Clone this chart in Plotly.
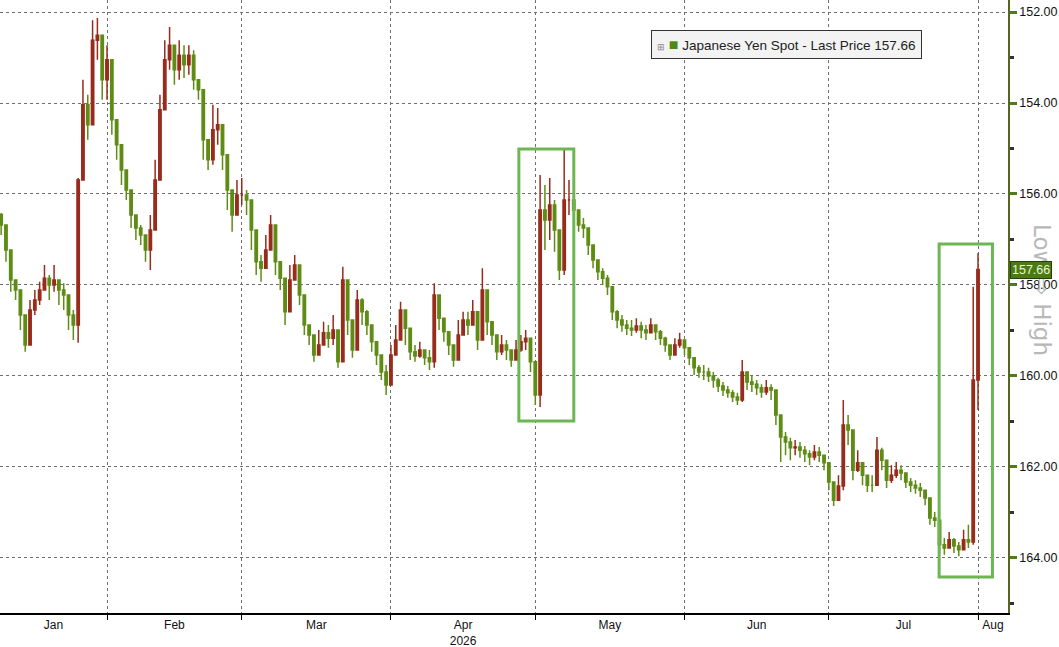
import plotly.graph_objects as go
import pandas as pd

# ---------------- data ----------------
start_date = "2026-01-10"
first_open = 156.45

closes = [
    156.68, 157.23, 157.89, 158.11, 158.66, 159.32, 158.55, 158.33, 158.11, 157.85,
    158.00, 157.89, 158.11, 158.22, 158.66, 158.88, 155.69, 154.04, 154.48, 152.62,
    152.51, 153.49, 153.05, 154.37, 154.92, 155.47, 155.91, 156.46, 156.75, 156.90,
    157.23, 156.79, 155.69, 154.15, 153.05, 152.73, 153.27, 152.95, 153.16, 152.95,
    153.49, 153.71, 154.81, 155.25, 154.59, 154.48, 155.14, 155.91, 156.46, 156.02,
    156.02, 156.13, 156.79, 157.49, 157.63, 157.23, 156.68, 157.49, 157.85, 158.59,
    157.89, 157.56, 158.22, 158.88, 159.10, 159.54, 159.32, 159.05, 159.17, 158.99,
    159.69, 157.89, 158.77, 159.43, 158.33, 158.59, 158.88, 159.25, 159.54, 159.91,
    160.20, 159.54, 159.21, 158.55, 158.95, 159.47, 159.56, 159.43, 159.60, 159.69,
    158.22, 158.73, 159.03, 159.32, 159.65, 159.10, 158.77, 158.88, 158.59, 159.21,
    158.11, 158.81, 159.10, 159.47, 159.32, 159.43, 159.65, 159.43, 159.25, 159.17,
    159.69, 160.42, 156.35, 156.57, 156.24, 156.79, 157.67, 156.13, 156.13, 156.35,
    156.68, 156.75, 157.12, 157.45, 157.71, 157.85, 158.04, 158.59, 158.77, 158.88,
    158.95, 158.99, 158.90, 158.99, 159.05, 158.88, 159.03, 159.17, 159.32, 159.54,
    159.32, 159.21, 159.38, 159.60, 159.82, 159.91, 159.91, 160.00, 160.09, 160.22,
    160.31, 160.37, 160.46, 160.53, 159.91, 160.13, 160.18, 160.26, 160.35, 160.26,
    160.31, 160.86, 161.34, 161.45, 161.58, 161.56, 161.63, 161.71, 161.78, 161.67,
    161.74, 161.91, 162.33, 162.73, 162.42, 161.08, 161.19, 162.07, 161.91, 162.18,
    162.40, 162.40, 161.63, 161.85, 162.29, 162.18, 162.07, 162.13, 162.33, 162.40,
    162.46, 162.51, 162.68, 163.12, 163.17, 163.71, 163.78, 163.60, 163.74, 163.82,
    163.60, 163.65, 160.09, 157.66,
]

lows = [
    156.42, 157.01, 157.67, 157.89, 158.33, 158.99, 158.33, 158.11, 157.93, 157.56,
    157.78, 157.56, 157.89, 157.96, 158.33, 158.55, 155.65, 153.49, 153.82, 152.18,
    152.13, 152.73, 152.73, 153.93, 154.59, 155.14, 155.58, 156.13, 156.46, 156.68,
    156.90, 156.46, 155.25, 153.82, 152.62, 152.33, 152.73, 152.62, 152.73, 152.73,
    152.84, 153.49, 154.26, 154.92, 154.04, 154.11, 154.81, 155.58, 156.02, 155.69,
    155.65, 155.91, 156.35, 157.12, 157.34, 156.90, 156.46, 157.23, 157.56, 158.22,
    157.56, 157.34, 157.89, 158.55, 158.88, 159.21, 158.99, 158.81, 158.88, 158.66,
    159.32, 157.60, 158.33, 158.99, 158.11, 158.29, 158.55, 158.99, 159.32, 159.65,
    159.76, 159.32, 158.88, 158.37, 158.73, 159.21, 159.32, 159.25, 159.43, 159.43,
    157.96, 158.33, 158.77, 159.10, 159.38, 158.77, 158.59, 158.59, 158.33, 158.88,
    157.63, 158.55, 158.88, 159.21, 159.10, 159.21, 159.43, 159.21, 159.10, 158.99,
    159.43, 160.09, 155.58, 155.80, 155.65, 156.13, 157.12, 155.03, 155.69, 156.13,
    156.46, 156.53, 156.86, 157.12, 157.49, 157.63, 157.78, 158.33, 158.55, 158.66,
    158.77, 158.77, 158.73, 158.81, 158.88, 158.73, 158.88, 158.99, 159.14, 159.32,
    159.17, 159.05, 159.21, 159.43, 159.65, 159.76, 159.76, 159.82, 159.91, 160.04,
    160.13, 160.22, 160.31, 160.37, 159.65, 159.91, 159.98, 160.09, 160.18, 160.09,
    160.18, 160.53, 161.08, 161.23, 161.36, 161.41, 161.45, 161.54, 161.63, 161.52,
    161.56, 161.74, 162.07, 162.46, 162.18, 160.53, 160.86, 161.74, 161.63, 161.89,
    162.18, 162.18, 161.34, 161.58, 162.07, 161.96, 161.89, 161.96, 162.15, 162.24,
    162.29, 162.35, 162.51, 162.90, 162.99, 163.38, 163.56, 163.43, 163.56, 163.65,
    163.38, 163.27, 158.04, 157.30,
]

highs = [
    156.90, 157.49, 158.15, 158.33, 158.99, 159.47, 158.88, 158.66, 158.44, 158.11,
    158.33, 158.15, 158.44, 158.55, 158.99, 159.21, 159.27, 155.36, 154.81, 153.27,
    153.05, 153.93, 153.93, 154.70, 155.25, 155.80, 156.13, 156.75, 157.01, 157.12,
    157.49, 157.67, 156.46, 155.25, 153.71, 153.27, 153.60, 153.49, 153.45, 153.38,
    153.71, 153.93, 155.25, 155.47, 155.36, 154.92, 155.47, 156.35, 156.83, 156.35,
    156.24, 156.46, 157.23, 157.78, 157.93, 157.56, 157.12, 157.78, 158.11, 158.88,
    158.22, 157.89, 158.44, 159.10, 159.32, 159.69, 159.54, 159.32, 159.38, 159.32,
    159.82, 159.54, 159.10, 159.60, 159.21, 158.88, 159.10, 159.47, 159.76, 160.09,
    160.42, 159.91, 159.54, 158.99, 159.32, 159.65, 159.69, 159.60, 159.76, 159.87,
    159.82, 158.99, 159.25, 159.54, 159.80, 159.54, 159.03, 159.10, 158.88, 159.43,
    158.99, 159.10, 159.32, 159.65, 159.54, 159.65, 159.80, 159.60, 159.47, 159.43,
    159.91, 160.64, 160.68, 157.23, 157.01, 157.27, 157.89, 157.78, 156.46, 156.57,
    156.83, 156.97, 157.34, 157.63, 157.89, 158.00, 158.22, 158.77, 158.95, 159.03,
    159.10, 159.12, 159.05, 159.17, 159.21, 159.05, 159.21, 159.32, 159.47, 159.65,
    159.47, 159.38, 159.54, 159.76, 159.98, 160.04, 160.09, 160.13, 160.26, 160.35,
    160.44, 160.48, 160.57, 160.64, 160.57, 160.31, 160.35, 160.42, 160.48, 160.42,
    160.53, 161.08, 161.89, 161.74, 161.85, 161.74, 161.80, 161.89, 161.96, 161.85,
    161.89, 162.07, 162.51, 162.86, 162.62, 162.51, 161.52, 162.29, 162.11, 162.40,
    162.55, 162.55, 162.33, 162.07, 162.46, 162.35, 162.24, 162.29, 162.46, 162.55,
    162.59, 162.66, 162.84, 163.27, 163.32, 163.93, 163.93, 163.78, 163.89, 163.96,
    163.78, 163.78, 163.71, 160.75,
]

month_labels = ["Jan", "Feb", "Mar", "Apr<br>2026", "May", "Jun", "Jul", "Aug"]
series_name = "Japanese Yen Spot - Last Price"

# highlighted episodes (date span, price span)
hl_x0 = ["2026-04-27 14:00", "2026-07-23 22:00"]
hl_x1 = ["2026-05-09 00:00", "2026-08-04 00:00"]
hl_y0 = [155.01, 157.10]
hl_y1 = [160.99, 164.42]

x_range = ["2026-01-09 18:15", "2026-08-07 05:30"]
y_range = [165.21, 151.736]

# ---------------- build ----------------
dates = pd.date_range(start_date, periods=len(closes), freq="D")
opens = [first_open] + closes[:-1]
hi = [max(h, o, c) for h, o, c in zip(highs, opens, closes)]
lo = [min(l, o, c) for l, o, c in zip(lows, opens, closes)]

GREEN = "#5e8c14"
RED = "#982c1c"

fig = go.Figure()
fig.add_trace(go.Candlestick(
    x=dates, open=opens, high=hi, low=lo, close=closes,
    increasing=dict(line=dict(color=GREEN, width=1.5), fillcolor=GREEN),
    decreasing=dict(line=dict(color=RED, width=1.5), fillcolor=RED),
    whiskerwidth=0, showlegend=False, hoverinfo="skip",
))

for a, b, c, d in zip(hl_x0, hl_x1, hl_y0, hl_y1):
    fig.add_shape(type="rect", xref="x", yref="y", x0=a, x1=b, y0=c, y1=d,
                  line=dict(color="#6db653", width=3), fillcolor="rgba(0,0,0,0)")

# month label positions: centre of the visible part of each month
r0, r1 = pd.Timestamp(x_range[0]), pd.Timestamp(x_range[1])
month_starts = pd.date_range("2026-01-01", "2026-09-01", freq="MS")
label_pos = []
for a, b in zip(month_starts[:-1], month_starts[1:]):
    s, e = max(a, r0), min(b, r1)
    label_pos.append(s + (e - s) / 2)

FONT = "Liberation Sans"

fig.update_layout(
    width=1059, height=647,
    margin=dict(l=0, r=51, t=0, b=34),
    paper_bgcolor="white", plot_bgcolor="white",
    font=dict(family=FONT, size=12, color="#111"),
    xaxis=dict(
        type="date", range=x_range, rangeslider=dict(visible=False),
        tickmode="array", tickvals=label_pos, ticktext=month_labels,
        ticks="", showgrid=False, zeroline=False,
        showline=True, linecolor="#000", linewidth=1.5,
        tickfont=dict(size=12, color="#111"),
        minor=dict(tick0="2026-01-01", dtick="M1", showgrid=True,
                   gridcolor="#6f6f6f", griddash="dot", gridwidth=1,
                   ticks="outside", ticklen=5, tickcolor="#000"),
    ),
    yaxis=dict(
        side="right", range=y_range,
        tickmode="linear", tick0=152, dtick=2, tickformat=".2f",
        showgrid=True, gridcolor="#6f6f6f", griddash="dot", gridwidth=1,
        zeroline=False, showline=True, linecolor="#55661f", linewidth=1.5,
        ticks="outside", ticklen=7, tickwidth=3, tickcolor="#4f7d14",
        tickfont=dict(size=12.5, color="#111"),
        minor=dict(tickmode="linear", tick0=153, dtick=2, ticks="outside",
                   ticklen=4, tickcolor="#333", showgrid=False),
    ),
)

# legend box
fig.add_annotation(
    xref="paper", yref="paper", x=786 / 1008, y=1 - 44.5 / 613,
    xanchor="center", yanchor="middle", showarrow=False,
    text=('<span style="color:#888;font-size:9px">⊞</span> '
          f'<span style="color:#4f8a10;font-size:16px">■</span> '
          f'{series_name} {closes[-1]:.2f}'),
    font=dict(family=FONT, size=13.5, color="#222"),
    bgcolor="#f3f3f3", bordercolor="#333", borderwidth=1, borderpad=5,
)

# Low -> High
fig.add_annotation(
    xref="paper", yref="paper", x=1042 / 1008, y=1 - 290 / 613,
    xanchor="center", yanchor="middle", showarrow=False, textangle=90,
    text="Low ⇨ High", font=dict(family="DejaVu Sans", size=23, color="#b8b8b8"),
)

# last price badge
fig.add_annotation(
    xref="paper", yref="y", x=1.002, y=closes[-1], xanchor="left", yanchor="middle",
    showarrow=False, text=f"{closes[-1]:.2f}",
    font=dict(family=FONT, size=12.5, color="#eaf6d8"),
    bgcolor="#4b7b12", bordercolor="#26400a", borderwidth=1, borderpad=1,
)

fig.write_html(
    "out.html",
    config={"displayModeBar": False},
    post_script="document.body.style.margin='0';document.body.style.overflow='hidden';",
)
